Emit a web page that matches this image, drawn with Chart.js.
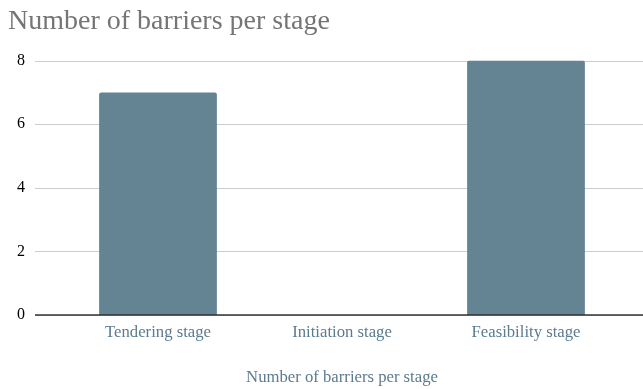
<!DOCTYPE html>
<html>
<head>
<meta charset="utf-8">
<script src="https://cdn.jsdelivr.net/npm/chart.js@4/dist/chart.umd.min.js"></script>
<style>
  html, body { margin: 0; padding: 0; background: #fff; }
  #wrap { width: 643px; height: 389px; }
</style>
</head>
<body>
<div id="wrap"><canvas id="chart" width="643" height="389"></canvas></div>
<script>
const stages = ['Tendering stage', 'Initiation stage', 'Feasibility stage'];
const barrierCounts = [7, 0, 8];
const yTicks = [0, 2, 4, 6, 8];

const serif = "'Liberation Serif', 'Times New Roman', serif";

// grid lines run wider than the category area, so draw them by hand
const wideGrid = {
  id: 'wideGrid',
  beforeDatasetsDraw: function (chart) {
    const ctx = chart.ctx;
    const y = chart.scales.y;
    ctx.save();
    yTicks.forEach(function (v) {
      const py = Math.round(y.getPixelForValue(v)) + 0.5;
      ctx.beginPath();
      ctx.moveTo(35, py);
      ctx.lineTo(chart.width, py);
      ctx.strokeStyle = '#cccccc';
      ctx.lineWidth = 1;
      ctx.stroke();
    });
    ctx.restore();
  },
  afterDatasetsDraw: function (chart) {
    const ctx = chart.ctx;
    const py = chart.scales.y.getPixelForValue(0);
    ctx.save();
    ctx.beginPath();
    ctx.moveTo(35, py);
    ctx.lineTo(chart.width, py);
    ctx.strokeStyle = '#333333';
    ctx.lineWidth = 1.5;
    ctx.stroke();
    ctx.restore();
  }
};

new Chart(document.getElementById('chart'), {
  type: 'bar',
  data: {
    labels: stages,
    datasets: [{
      label: 'Number of barriers per stage',
      data: barrierCounts,
      backgroundColor: '#648494',
      borderRadius: { topLeft: 2, topRight: 2 },
      borderSkipped: 'start',
      categoryPercentage: 0.8,
      barPercentage: 0.8
    }]
  },
  options: {
    responsive: false,
    animation: false,
    layout: { padding: { left: 8, right: 25, top: 0, bottom: 0 } },
    plugins: {
      legend: { display: false },
      tooltip: { enabled: false },
      title: {
        display: true,
        text: 'Number of barriers per stage',
        align: 'start',
        color: '#757575',
        font: { family: serif, size: 28, weight: 'normal' },
        padding: { top: 5, bottom: 22 }
      }
    },
    scales: {
      x: {
        grid: { display: false, drawTicks: false },
        border: { display: false },
        ticks: {
          color: '#5b7b8f',
          padding: 8,
          font: { family: serif, size: 16.7 }
        },
        title: {
          display: true,
          text: 'Number of barriers per stage',
          color: '#5b7b8f',
          font: { family: serif, size: 16.7 },
          padding: { top: 0, bottom: 1 }
        },
        afterFit: function (scale) { scale.height = 74; }
      },
      y: {
        min: 0,
        max: 8,
        afterBuildTicks: function (scale) {
          scale.ticks = yTicks.map(function (v) { return { value: v }; });
        },
        grid: { display: false, drawTicks: false },
        border: { display: false },
        ticks: {
          color: '#000000',
          padding: 41,
          font: { family: serif, size: 16 }
        },
        afterFit: function (scale) { scale.width = 58; }
      }
    }
  },
  plugins: [wideGrid]
});
</script>
</body>
</html>
